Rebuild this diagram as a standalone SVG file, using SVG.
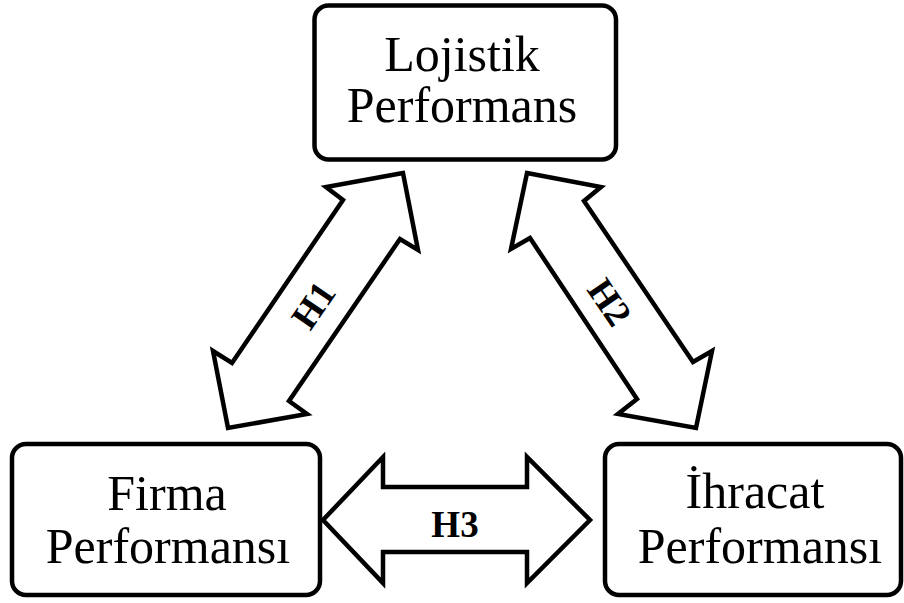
<svg xmlns="http://www.w3.org/2000/svg" width="904" height="603" viewBox="0 0 904 603">
<style>
.box{fill:#fff;stroke:#000;stroke-width:4.5}
.arr{fill:#fff;stroke:#000;stroke-width:4.5;stroke-linejoin:miter;stroke-miterlimit:10}
.t{font-family:"Liberation Serif","Times New Roman",serif;font-size:50px;fill:#000;text-anchor:middle}
.h{font-family:"Liberation Serif","Times New Roman",serif;font-size:37px;font-weight:bold;fill:#000;text-anchor:middle}
</style>
<rect width="904" height="603" fill="#fff"/>
<g id="connectors">
<g id="h1">
<polygon class="arr" points="403,173 326,187 343,200 232,363 213,351 228,428 307,414 289,401 400,239 418,250"/>
<text class="h" transform="translate(313,305) rotate(-55.6)" y="13">H1</text>
</g>
<g id="h2">
<polygon class="arr" points="527,173 601,187 584,201 693,362 712,351 696,428 618,414 637,399 530,238 511,249"/>
<text class="h" transform="translate(610,302) rotate(55.6)" y="13">H2</text>
</g>
<g id="h3">
<polygon class="arr" points="323,520 383,457 383,487 527,487 527,457 590,520 527,583 527,552 383,552 383,583"/>
<text class="h" x="455" y="537">H3</text>
</g>
</g>
<g id="lojistik">
<rect class="box" x="314.5" y="5.5" width="301.5" height="154" rx="14"/>
<text class="t" x="462" y="71">Lojistik</text>
<text class="t" x="462" y="122">Performans</text>
</g>
<g id="firma">
<rect class="box" x="12" y="444" width="308" height="151" rx="14"/>
<text class="t" x="167" y="510">Firma</text>
<text class="t" x="168" y="563">Performansı</text>
</g>
<g id="ihracat">
<rect class="box" x="605" y="444" width="296" height="151" rx="14"/>
<text class="t" x="755" y="508">İhracat</text>
<text class="t" x="760" y="563">Performansı</text>
</g>
</svg>
